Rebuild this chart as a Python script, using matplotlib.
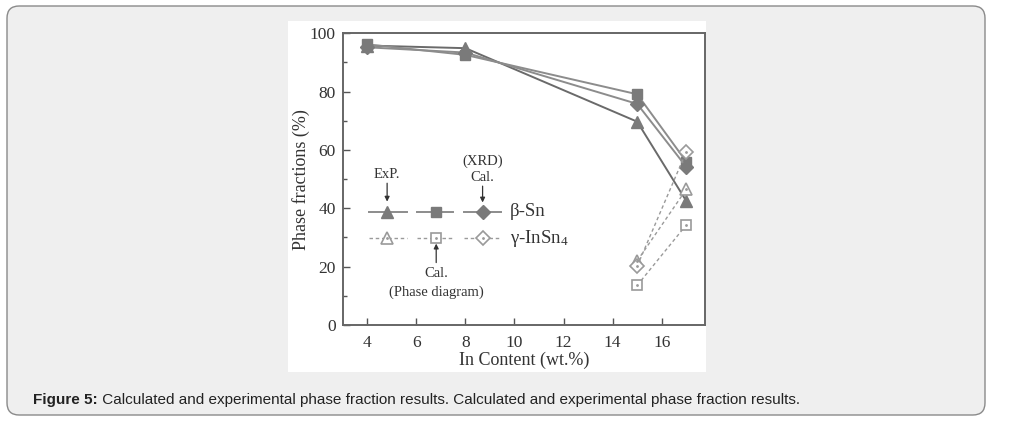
import matplotlib.pyplot as plt
from matplotlib.patches import FancyBboxPatch, Rectangle
from matplotlib.ticker import MultipleLocator

# In content (wt.%)
x_beta = [4, 8, 15, 17]
x_gamma = [15, 17]

# beta-Sn phase fractions (%)
beta_exp = [95.8, 94.9, 69.7, 42.5]
beta_cal_pd = [96.2, 92.6, 79.1, 56.0]
beta_cal_xrd = [95.2, 93.4, 75.8, 54.2]

# gamma-InSn4 phase fractions (%)
gamma_exp = [22.0, 46.5]
gamma_cal_pd = [13.6, 34.3]
gamma_cal_xrd = [20.2, 59.4]

CAPTION_BOLD = 'Figure 5:'
CAPTION = (' Calculated and experimental phase fraction results. '
           'Calculated and experimental phase fraction results.')

SERIF = 'Liberation Serif'
C_EXP = '#6a6a6a'
C_PD = '#8c8c8c'
C_XRD = '#7a7a7a'
C_OPEN = '#9a9a9a'
TXT = '#333333'

plt.rcParams['mathtext.fontset'] = 'custom'
plt.rcParams['mathtext.rm'] = SERIF

fig = plt.figure(figsize=(10.12, 4.24), dpi=100)
W, H = 1012, 424

# outer rounded frame
box = FancyBboxPatch((7 / W, (H - 415) / H), 978 / W, 409 / H,
                     boxstyle='round,pad=0,rounding_size=0.012',
                     transform=fig.transFigure, facecolor='#efefef',
                     edgecolor='#8a8a8a', linewidth=1.0, mutation_aspect=W / H,
                     zorder=-2)
fig.patches.append(box)
# white panel behind the chart
fig.patches.append(Rectangle((288 / W, (H - 372) / H), 418 / W, 351 / H,
                             transform=fig.transFigure, facecolor='white',
                             edgecolor='none', zorder=-1))

ax = fig.add_axes([342.7 / W, 1 - 325 / H, 362 / W, (325 - 33.3) / H])
ax.set_facecolor('white')
ax.set_zorder(2)

# beta-Sn (solid, filled)
ax.plot(x_beta, beta_exp, '-', color=C_EXP, lw=1.4, marker='^', ms=8,
        mfc=C_XRD, mec=C_XRD, zorder=3)
ax.plot(x_beta, beta_cal_pd, '-', color=C_PD, lw=1.4, marker='s', ms=7,
        mfc=C_XRD, mec=C_XRD, zorder=3)
ax.plot(x_beta, beta_cal_xrd, '-', color=C_PD, lw=1.4, marker='D', ms=7,
        mfc=C_XRD, mec=C_XRD, zorder=3)

# gamma-InSn4 (dashed, open)
ax.plot(x_gamma, gamma_exp, '--', color=C_OPEN, lw=1.0, dashes=(2.5, 2),
        marker='^', ms=8, mfc='white', mec=C_OPEN, mew=1.2, zorder=4)
ax.plot(x_gamma, gamma_cal_pd, '--', color=C_OPEN, lw=1.0, dashes=(2.5, 2),
        marker='s', ms=7, mfc='white', mec=C_OPEN, mew=1.2, zorder=4)
ax.plot(x_gamma, gamma_cal_xrd, '--', color=C_OPEN, lw=1.0, dashes=(2.5, 2),
        marker='D', ms=7, mfc='white', mec=C_OPEN, mew=1.2, zorder=4)
for ys in (gamma_exp, gamma_cal_pd, gamma_cal_xrd):
    ax.plot(x_gamma, ys, ls='none', marker='.', ms=2, color=C_OPEN, zorder=5)

# hand-made legend keys
keys = [((4.07, 5.62), 4.81, '^', 8), ((6.02, 7.51), 6.81, 's', 7),
        ((7.93, 9.46), 8.7, 'D', 7)]
row_beta, row_gamma = 38.9, 29.7
for (x0, x1), xm, mk, ms in keys:
    ax.plot([x0, x1], [row_beta, row_beta], '-', color=C_PD, lw=1.4)
    ax.plot([xm], [row_beta], marker=mk, ms=ms, color=C_XRD)
    ax.plot([x0, x1], [row_gamma, row_gamma], '--', color=C_OPEN, lw=1.0,
            dashes=(2.5, 2))
    ax.plot([xm], [row_gamma], marker=mk, ms=ms, mfc='white', mec=C_OPEN,
            mew=1.2)
    ax.plot([xm], [row_gamma], marker='.', ms=2, color=C_OPEN)
ax.text(9.8, row_beta, 'β-Sn', family=SERIF, fontsize=13.5,
        va='center', ha='left', color=TXT)
ax.text(9.8, row_gamma, r'γ-InSn$\mathregular{_4}$', family=SERIF,
        fontsize=13.5, va='center', ha='left', color=TXT)

arrow = dict(arrowstyle='-|>', color=TXT, lw=0.9, mutation_scale=7,
             shrinkA=0, shrinkB=0)
ax.annotate('', xy=(4.81, 42.3), xytext=(4.81, 48.6), arrowprops=arrow)
ax.text(4.81, 51.5, 'ExP.', family=SERIF, fontsize=10.5, ha='center',
        va='center', color=TXT)
ax.annotate('', xy=(8.7, 42.0), xytext=(8.7, 47.6), arrowprops=arrow)
ax.text(8.7, 56.3, '(XRD)', family=SERIF, fontsize=10.5, ha='center',
        va='center', color=TXT)
ax.text(8.7, 50.4, 'Cal.', family=SERIF, fontsize=10.5, ha='center',
        va='center', color=TXT)
ax.annotate('', xy=(6.81, 27.9), xytext=(6.81, 21.4), arrowprops=arrow)
ax.text(6.81, 17.7, 'Cal.', family=SERIF, fontsize=10.5, ha='center',
        va='center', color=TXT)
ax.text(6.81, 11.2, '(Phase diagram)', family=SERIF, fontsize=10.5,
        ha='center', va='center', color=TXT)

ax.set_xlim(3.0, 17.75)
ax.set_ylim(0, 100)
ax.set_xticks([4, 6, 8, 10, 12, 14, 16])
ax.set_yticks([0, 20, 40, 60, 80, 100])
ax.yaxis.set_minor_locator(MultipleLocator(10))
ax.tick_params(which='both', direction='in', top=False, right=False,
               color='#555555', labelcolor=TXT, labelsize=12.5, pad=5)
ax.tick_params(which='major', length=5, width=1.0)
ax.tick_params(which='minor', length=3, width=1.0)
ax.tick_params(axis='x', pad=7)
for lab in ax.get_xticklabels() + ax.get_yticklabels():
    lab.set_family(SERIF)
for sp in ax.spines.values():
    sp.set_color('#666666')
    sp.set_linewidth(1.4)

ax.set_xlabel('In Content (wt.%)', family=SERIF, fontsize=13,
              color=TXT, labelpad=1)
ax.set_ylabel('Phase fractions (%)', family=SERIF, fontsize=13,
              color=TXT, labelpad=0)

t = fig.text(33 / W, 1 - 400 / H, CAPTION_BOLD, family='Liberation Sans',
             fontsize=11, weight='bold', va='center', ha='left',
             color='#222222')
fig.canvas.draw()
bb = t.get_window_extent()
fig.text(bb.x1 / W, 1 - 400 / H, CAPTION, family='Liberation Sans',
         fontsize=11, va='center', ha='left', color='#222222')

fig.savefig('out.png', dpi=100, facecolor='white')
